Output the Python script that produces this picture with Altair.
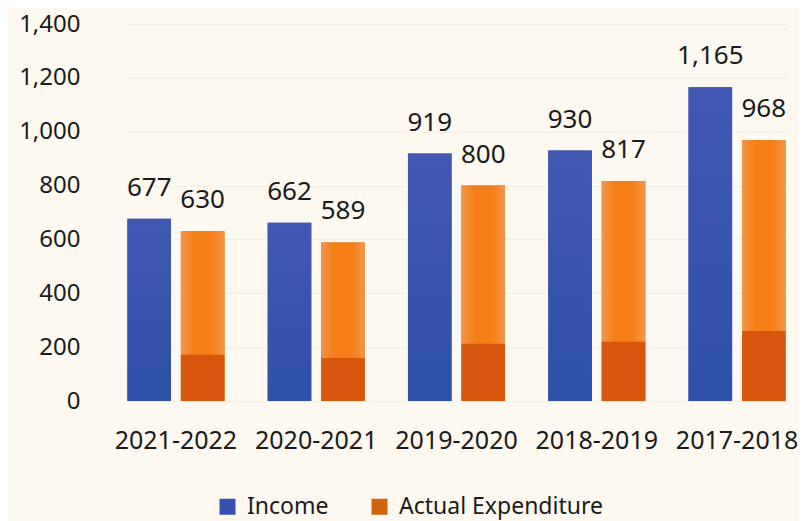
import altair as alt
import pandas as pd

years = ["2021-2022", "2020-2021", "2019-2020", "2018-2019", "2017-2018"]
income = [677, 662, 919, 930, 1165]
expenditure = [630, 589, 800, 817, 968]
exp_base = [172, 160, 213, 220, 260]
series_order = ["Income", "Actual Expenditure"]
y_ticks = [0, 200, 400, 600, 800, 1000, 1200, 1400]

rows = []
for i, yr in enumerate(years):
    rows.append({"year": yr, "series": "Income", "value": income[i], "seg": None,
                 "label": f"{income[i]:,}"})
    rows.append({"year": yr, "series": "Actual Expenditure", "value": expenditure[i],
                 "seg": exp_base[i], "label": f"{expenditure[i]:,}"})
df = pd.DataFrame(rows)

FONT = "Noto Sans"
TXT = "#1a1a1a"

x_enc = alt.X("year:N", sort=years,
              scale=alt.Scale(paddingInner=0.308, paddingOuter=0.01),
              axis=alt.Axis(title=None, labelAngle=0, labelFontSize=25, labelFont=FONT,
                            labelColor=TXT, labelPadding=27, ticks=False, domain=False,
                            labelOverlap=False, labelBound=False))
xo_enc = alt.XOffset("series:N", sort=series_order,
                     scale=alt.Scale(domain=series_order, paddingInner=0.185, paddingOuter=0))
y_axis = alt.Axis(title=None, values=y_ticks, labelExpr="format(datum.value, ',')",
                  labelFontSize=24, labelFont=FONT,
                  labelColor=TXT, labelPadding=46, ticks=False, domain=False,
                  grid=True, gridColor="#F4EFE6", gridWidth=1)
y_scale = alt.Scale(domain=[0, 1400], nice=False)

base = alt.Chart(df)

legend_bars = base.mark_bar().encode(
    x=x_enc, xOffset=xo_enc,
    y=alt.Y("value:Q", scale=y_scale, axis=y_axis),
    color=alt.Color("series:N",
                    scale=alt.Scale(domain=series_order, range=["#3A50B0", "#D3620F"]),
                    legend=alt.Legend(orient="none", legendX=90, legendY=471,
                                      direction="horizontal", title=None,
                                      symbolType="square", symbolSize=256,
                                      symbolStrokeWidth=0, labelLimit=400,
                                      labelFontSize=23, labelFont=FONT, labelColor=TXT,
                                      labelOffset=8, columnPadding=39, padding=0)),
)

income_bars = base.transform_filter(alt.datum.series == "Income").mark_bar(
    color=alt.Gradient(gradient="linear", x1=0, x2=0, y1=0, y2=1,
                       stops=[alt.GradientStop(color="#4258B2", offset=0),
                              alt.GradientStop(color="#2E50A7", offset=1)])
).encode(x=x_enc, xOffset=xo_enc, y=alt.Y("value:Q", scale=y_scale, axis=y_axis))

exp_bars = base.transform_filter(alt.datum.series == "Actual Expenditure").mark_bar(
    color=alt.Gradient(gradient="linear", x1=0, x2=1, y1=0, y2=0,
                       stops=[alt.GradientStop(color="#F3964A", offset=0),
                              alt.GradientStop(color="#F47E18", offset=0.3),
                              alt.GradientStop(color="#F47E18", offset=0.7),
                              alt.GradientStop(color="#F3964A", offset=1)])
).encode(x=x_enc, xOffset=xo_enc, y=alt.Y("value:Q", scale=y_scale, axis=y_axis))

exp_seg = base.transform_filter(alt.datum.series == "Actual Expenditure").mark_bar(
    color="#D9570C"
).encode(x=x_enc, xOffset=xo_enc, y=alt.Y("seg:Q", scale=y_scale, axis=y_axis))

labels = base.mark_text(font=FONT, fontSize=26, color=TXT, baseline="alphabetic",
                        align="center", dy=-23).encode(
    x=x_enc, xOffset=xo_enc, y=alt.Y("value:Q", scale=y_scale, axis=y_axis),
    text="label:N")

chart = alt.layer(legend_bars, income_bars, exp_bars, exp_seg, labels).properties(
    width=661, height=377,
    autosize=alt.AutoSizeParams(type="none"),
    padding={"left": 118, "top": 16, "right": 12, "bottom": 120},
    background="#FDF9F1",
).configure_view(stroke=None)

chart.save("out.html", embed_options={"renderer": "svg", "actions": False})
